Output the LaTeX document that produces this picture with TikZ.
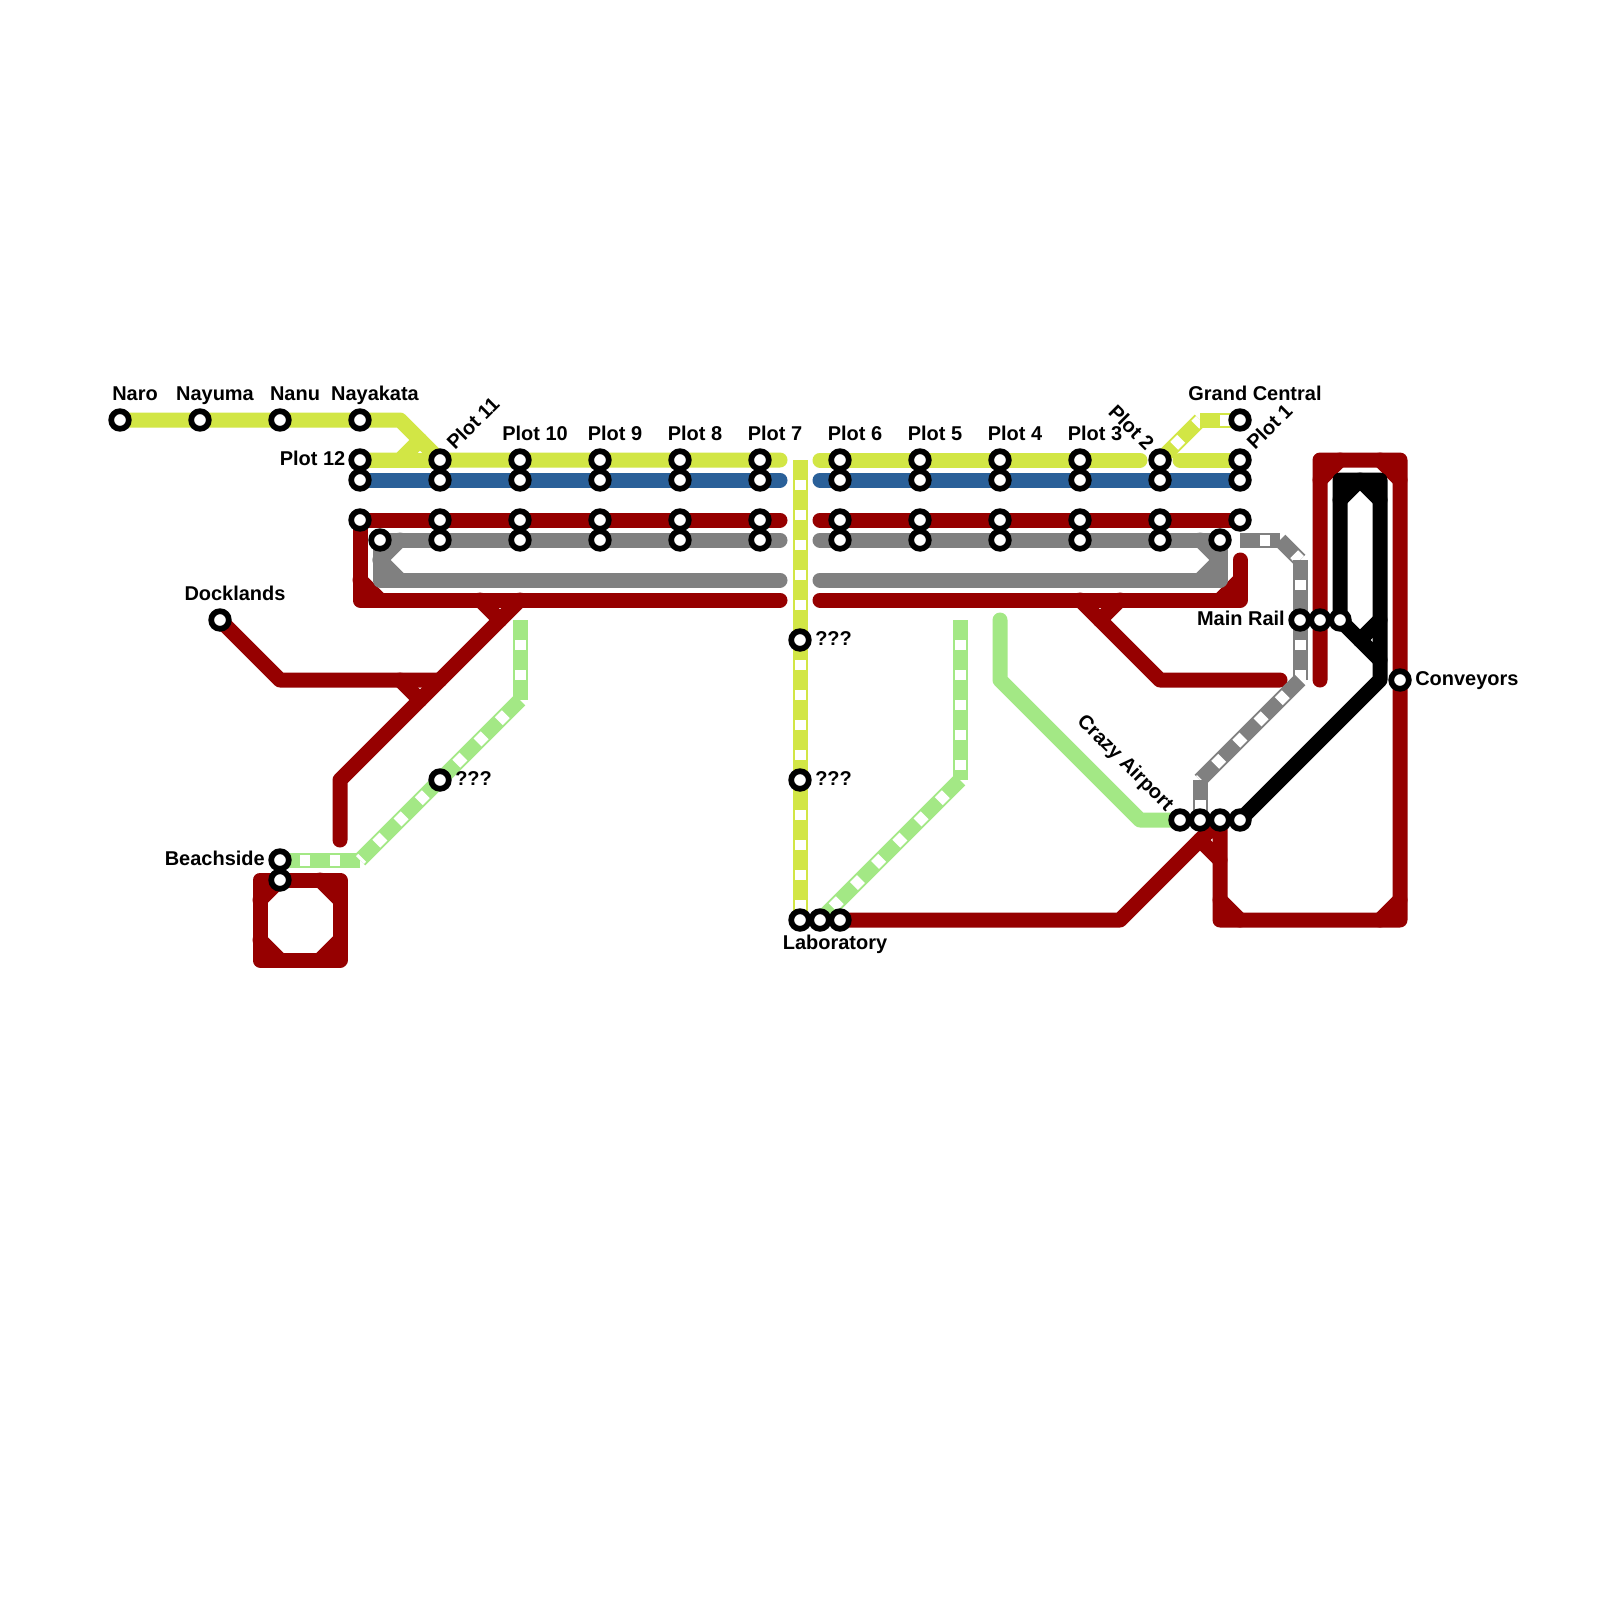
\documentclass[tikz,border=0pt]{standalone}
\usepackage{fontspec}
\setmainfont{Liberation Sans}
\definecolor{limeL}{HTML}{D2E645}
\definecolor{blueL}{HTML}{2A6099}
\definecolor{redL}{HTML}{960000}
\definecolor{grayL}{HTML}{808080}
\definecolor{greenL}{HTML}{A3E885}
\tikzset{
  metro/.style={line width=.375cm,line cap=round,line join=round},
  seg/.style={line width=.375cm,line cap=butt,draw=#1,
    postaction={draw=white,line width=.275cm,line cap=butt,dash pattern=on .25cm off .5cm,dash phase=.25cm}},
  station/.style={circle,draw=black,fill=white,line width=.144cm,minimum size=.44cm,inner sep=0pt},
  lab/.style={font=\fontsize{14.2pt}{16pt}\selectfont\bfseries,inner sep=0pt},
}
\begin{document}
\begin{tikzpicture}[x=.025cm,y=-.025cm]
\useasboundingbox[fill=white] (0,0) rectangle (1600,1600);
% stations as named points
\coordinate (naro) at (120,420);
\coordinate (nayuma) at (200,420);
\coordinate (nanu) at (280,420);
\coordinate (nayakata) at (360,420);
\foreach \n/\x in {11/440,10/520,9/600,8/680,7/760,6/840,5/920,4/1000,3/1080,2/1160}{
  \foreach \r/\y in {a/460,b/480,c/520,d/540}{\coordinate (p\n\r) at (\x,\y);}}
\coordinate (p12a) at (360,460);
\coordinate (p12b) at (360,480);
\coordinate (p12c) at (360,520);
\coordinate (p12d) at (380,540);
\coordinate (p1a) at (1240,460);
\coordinate (p1b) at (1240,480);
\coordinate (p1c) at (1240,520);
\coordinate (p1d) at (1220,540);
\coordinate (grand) at (1240,420);
\coordinate (dock) at (220,620);
\coordinate (beachA) at (280,860);
\coordinate (beachB) at (280,880);
\coordinate (qL) at (440,780);
\coordinate (qA) at (800,640);
\coordinate (qB) at (800,780);
\coordinate (labA) at (800,920);
\coordinate (labB) at (820,920);
\coordinate (labC) at (840,920);
\coordinate (airA) at (1180,820);
\coordinate (airB) at (1200,820);
\coordinate (airC) at (1220,820);
\coordinate (airD) at (1240,820);
\coordinate (railA) at (1300,620);
\coordinate (railB) at (1320,620);
\coordinate (railC) at (1340,620);
\coordinate (conv) at (1400,680);
% gap ends
\foreach \r/\y in {a/460,b/480,c/520,d/540,e/580,f/600}{
  \coordinate (gl\r) at (780,\y);
  \coordinate (gr\r) at (820,\y);}
% lime
\draw[metro,limeL] (naro) -- (400,420) -- (p11a) -- (gla);
\draw[metro,limeL] (p12a) -- (400,460) -- (420,440);
\draw[metro,limeL] (p12a) -- (p11a);
\draw[metro,limeL] (gra) -- (1140,460);
\draw[metro,limeL] (1180,460) -- (p1a);
\draw[seg=limeL] (p2a) -- (1200,420);
\draw[seg=limeL] (1200,420) -- (grand);
\draw[seg=limeL] (800,460) -- (labA);
% blue
\draw[metro,blueL] (p12b) -- (glb);
\draw[metro,blueL] (grb) -- (p1b);
% red main
\draw[metro,redL] (p12c) -- (glc);
\draw[metro,redL] (grc) -- (p1c);
\draw[metro,redL] (p12c) -- (360,600) -- (glf);
\draw[metro,redL] (360,580) -- (380,600);
\draw[metro,redL] (grf) -- (1240,600) -- (1240,560);
\draw[metro,redL] (1220,600) -- (1240,580);
\draw[metro,redL] (1080,600) -- (1160,680) -- (1280,680);
\draw[metro,redL] (1100,620) -- (1120,600);
\draw[metro,redL] (520,600) -- (340,780) -- (340,840);
\draw[metro,redL] (480,600) -- (500,620);
\draw[metro,redL] (dock) -- (280,680) -- (440,680);
\draw[metro,redL] (400,680) -- (420,700);
% red square
\draw[metro,redL] (260,880) -- (340,880) -- (340,960) -- (260,960) -- cycle;
\draw[metro,redL] (260,900) -- (280,880);
\draw[metro,redL] (320,880) -- (340,900);
\draw[metro,redL] (340,940) -- (320,960);
\draw[metro,redL] (280,960) -- (260,940);
% red right loop
\draw[metro,redL] (labC) -- (1120,920) -- (airC) -- (1220,920) -- (1400,920) -- (1400,460) -- (1320,460) -- (1320,680);
\draw[metro,redL] (1200,840) -- (1220,860);
\draw[metro,redL] (1220,900) -- (1240,920);
\draw[metro,redL] (1380,920) -- (1400,900);
\draw[metro,redL] (1320,480) -- (1340,460);
\draw[metro,redL] (1380,460) -- (1400,480);
% gray
\draw[metro,grayL] (p12d) -- (gld);
\draw[metro,grayL] (p12d) -- (380,580) -- (gle);
\draw[metro,grayL] (380,560) -- (400,540);
\draw[metro,grayL] (380,560) -- (400,580);
\draw[metro,grayL] (grd) -- (p1d) -- (1220,580) -- (gre);
\draw[metro,grayL] (1220,560) -- (1200,540);
\draw[metro,grayL] (1220,560) -- (1200,580);
\draw[seg=grayL] (1240,540) -- (1280,540);
\draw[seg=grayL] (1280,540) -- (1300,560);
\draw[seg=grayL] (1300,560) -- (1300,680);
\draw[seg=grayL] (1300,680) -- (1200,780);
\draw[seg=grayL] (1200,780) -- (airB);
% light green
\draw[seg=greenL] (360,860) -- (beachA);
\draw[seg=greenL] (qL) -- (360,860);
\draw[seg=greenL] (520,700) -- (qL);
\draw[seg=greenL] (520,620) -- (520,700);
\draw[seg=greenL] (960,620) -- (960,780);
\draw[seg=greenL] (960,780) -- (labB);
\draw[metro,greenL] (1000,620) -- (1000,680) -- (1140,820) -- (airA);
% black
\draw[metro,black] (railC) -- (1340,480) -- (1380,480) -- (1380,680) -- (airD);
\draw[metro,black] (1340,500) -- (1360,480) -- (1380,500);
\draw[metro,black] (railC) -- (1380,660);
\draw[metro,black] (1380,620) -- (1360,640);
% station markers
\foreach \s in {naro,nayuma,nanu,nayakata,p12a,p12b,p12c,p12d,p1a,p1b,p1c,p1d,grand,dock,beachA,beachB,qL,qA,qB,labA,labB,labC,airA,airB,airC,airD,railA,railB,railC,conv}{
  \node[station] (st-\s) at (\s) {};}
\foreach \n in {11,10,9,8,7,6,5,4,3,2}{
  \foreach \r in {a,b,c,d}{\node[station] (st-p\n\r) at (p\n\r) {};}}
% labels
\node[lab,anchor=base] (t-naro) at (135,400) {Naro};
\node[lab,anchor=base] (t-nayuma) at (215,400) {Nayuma};
\node[lab,anchor=base] (t-nanu) at (295,400) {Nanu};
\node[lab,anchor=base] (t-nayakata) at (375,400) {Nayakata};
\node[lab,anchor=base] (t-dock) at (235,600) {Docklands};
\node[lab,anchor=base] (t-grand) at (1255,400) {Grand Central};
\foreach \n/\x in {10/535,9/615,8/695,7/775,6/855,5/935,4/1015,3/1095}{
  \node[lab,anchor=base] (t-p\n) at (\x,440) {Plot \n};}
\node[lab,anchor=base east] (t-p12) at (345.5,465) {Plot 12};
\node[lab,anchor=base east] (t-beach) at (265,865) {Beachside};
\node[lab,anchor=base east] (t-rail) at (1285,625) {Main Rail};
\node[lab,anchor=base west] (t-q1) at (455,785) {???};
\node[lab,anchor=base west] (t-q2) at (815,645) {???};
\node[lab,anchor=base west] (t-q3) at (815,785) {???};
\node[lab,anchor=base west] (t-conv) at (1415,685) {Conveyors};
\node[lab,anchor=base] (t-lab) at (835,949) {Laboratory};
\node[lab,anchor=base west,rotate=45] (t-p11) at (455,451) {Plot 11};
\node[lab,anchor=base west,rotate=45] (t-p1) at (1255,451) {Plot 1};
\node[lab,anchor=base east,rotate=-45] (t-p2) at (1146,452) {Plot 2};
\node[lab,anchor=base east,rotate=-45] (t-air) at (1166,812) {Crazy Airport};
\end{tikzpicture}
\end{document}
